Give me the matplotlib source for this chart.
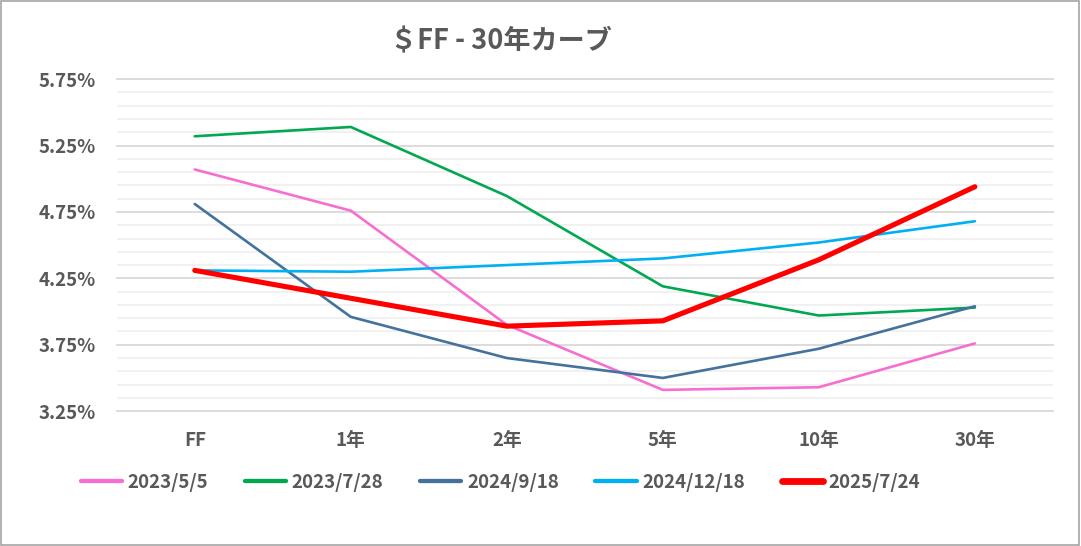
import numpy as np
import matplotlib.pyplot as plt
from matplotlib.ticker import FixedLocator, FuncFormatter
from matplotlib.patches import Rectangle

plt.rcParams['font.family'] = ['Noto Sans CJK JP', 'DejaVu Sans']

# data (% yields)
tenors = ["FF", "1年", "2年", "5年", "10年", "30年"]
dates = ["2023/5/5", "2023/7/28", "2024/9/18", "2024/12/18", "2025/7/24"]
y_20230505 = [5.07, 4.76, 3.90, 3.41, 3.43, 3.76]
y_20230728 = [5.32, 5.39, 4.87, 4.19, 3.97, 4.03]
y_20240918 = [4.81, 3.96, 3.65, 3.50, 3.72, 4.04]
y_20241218 = [4.31, 4.30, 4.35, 4.40, 4.52, 4.68]
y_20250724 = [4.31, 4.10, 3.89, 3.93, 4.39, 4.94]

series = [y_20230505, y_20230728, y_20240918, y_20241218, y_20250724]
colors = ["#F56FD0", "#00A850", "#44729D", "#00B0F0", "#FF0000"]
widths = [1.9, 1.9, 1.9, 1.9, 3.7]
grey = "#595959"

fig = plt.figure(figsize=(10.81, 5.46), dpi=100)
ax = fig.add_axes([0.108, 0.247, 0.866, 0.608])

x = range(len(tenors))
for vals, c, lw, lab in zip(series, colors, widths, dates):
    ax.plot(x, vals, color=c, lw=lw, label=lab, solid_capstyle="round", zorder=3)

ax.set_xlim(-0.5, len(tenors) - 0.5)
ax.set_ylim(3.25, 5.75)
major = np.arange(3.25, 5.76, 0.5)
minor = [v for v in np.arange(3.25, 5.76, 0.1) if min(abs(v - major)) > 0.01]
ax.yaxis.set_major_locator(FixedLocator(major))
ax.yaxis.set_minor_locator(FixedLocator(minor))
ax.yaxis.set_major_formatter(FuncFormatter(lambda v, p: f"{v:.2f}%"))
ax.grid(axis="y", which="major", color="#D9D9D9", lw=1.3)
ax.grid(axis="y", which="minor", color="#EEEEEE", lw=1.1)
for gl in ax.yaxis.get_gridlines():
    gl.set_clip_on(False)
ax.set_axisbelow(True)
ax.set_xticks(list(x))
ax.set_xticklabels(tenors)
ax.tick_params(axis="both", which="both", length=0, colors=grey, labelsize=13.5)
ax.tick_params(axis="y", pad=15)
ax.tick_params(axis="x", pad=14)
for t in ax.get_xticklabels() + ax.get_yticklabels():
    t.set_fontweight("bold")
for s in ax.spines.values():
    s.set_visible(False)

fig.text(0.463, 0.925, "＄FF - 30年カーブ", ha="center", va="center",
         fontsize=19.5, fontweight="bold", color=grey)

leg = fig.legend(loc="center", bbox_to_anchor=(0.463, 0.117), ncol=5, frameon=False,
                 fontsize=13.5, handlelength=2.2, columnspacing=1.95, handletextpad=0.3)
for t in leg.get_texts():
    t.set_color(grey)
    t.set_fontweight("bold")
for h, lw in zip(leg.legend_handles, widths):
    h.set_linewidth(lw + 1.2)

fig.patches.append(Rectangle((0.0005, 0.001), 0.998, 0.997, transform=fig.transFigure,
                             fill=False, edgecolor="#A6A6A6", lw=1.2))

fig.savefig("out.png", dpi=100)
